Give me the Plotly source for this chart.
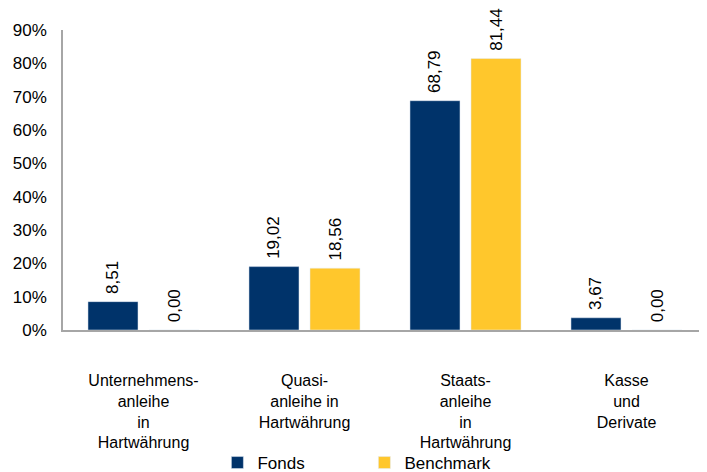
import plotly.graph_objects as go

categories = ["Unternehmens-<br>anleihe<br>in<br>Hartwährung",
              "Quasi-<br>anleihe in<br>Hartwährung",
              "Staats-<br>anleihe<br>in<br>Hartwährung",
              "Kasse<br>und<br>Derivate"]
fonds = [8.51, 19.02, 68.79, 3.67]
benchmark = [0.00, 18.56, 81.44, 0.00]
y_ticks = [0, 10, 20, 30, 40, 50, 60, 70, 80, 90]
y_tick_labels = [f"{v}%" for v in y_ticks]

def fmt(v):
    return "\u00a0" + f"{v:.2f}".replace(".", ",")

font = "Liberation Sans, Arial, sans-serif"
fig = go.Figure()
fig.add_bar(x=categories, y=fonds, name="Fonds", marker_color="#00336A",
            text=[fmt(v) for v in fonds], textposition="outside", textangle=-90,
            textfont=dict(size=17, color="#000000", family=font),
            constraintext="none", cliponaxis=False)
fig.add_bar(x=categories, y=benchmark, name="Benchmark", marker_color="#FFC72C",
            text=[fmt(v) for v in benchmark], textposition="outside", textangle=-90,
            textfont=dict(size=17, color="#000000", family=font),
            constraintext="none", cliponaxis=False)

fig.update_layout(
    width=699, height=464,
    margin=dict(l=55, r=0, t=22, b=142),
    plot_bgcolor="white", paper_bgcolor="white",
    barmode="group", bargap=0.242, bargroupgap=0.18,
    font=dict(family=font, size=17, color="#000000"),
    showlegend=True,
    legend=dict(orientation="h", x=0.468, xanchor="center",
                yref="container", y=0.0194, yanchor="middle",
                font=dict(size=17), entrywidth=102, itemwidth=30,
                bgcolor="rgba(0,0,0,0)", traceorder="normal"),
)
fig.update_xaxes(showline=True, linecolor="#A6A6A6", linewidth=1.5,
                 ticks="", ticklabelstandoff=35, tickfont=dict(size=16),
                 automargin=False)
fig.update_yaxes(range=[0, 90], tickmode="array", tickvals=y_ticks,
                 ticktext=y_tick_labels,
                 showgrid=False, showline=True, linecolor="#A6A6A6", linewidth=1.5,
                 ticks="", zeroline=False, ticklabelstandoff=11,
                 tickfont=dict(size=17), automargin=False)

fig.write_html("out.html")
